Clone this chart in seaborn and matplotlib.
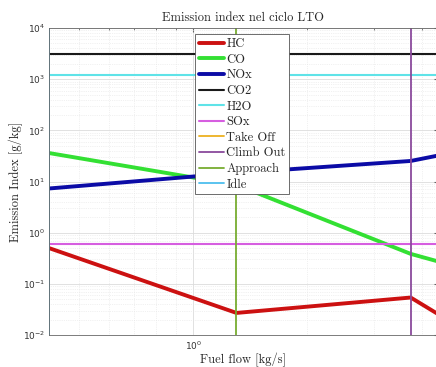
import numpy as np
import pandas as pd
import matplotlib
matplotlib.use("Agg")
import matplotlib.pyplot as plt
from matplotlib.ticker import NullFormatter
import seaborn as sns

# Data
phases = ["Idle", "Approach", "Climb Out", "Take Off"]
fuel_flow = [0.417, 1.30, 3.74, 4.40]  # kg/s
HC = [0.50, 0.027, 0.054, 0.026]
CO = [36.0, 8.6, 0.385, 0.276]
NOx = [7.3, 14.7, 25.2, 32.0]
CO2 = [3160, 3160, 3160, 3160]
H2O = [1230, 1230, 1230, 1230]
SOx = [0.6, 0.6, 0.6, 0.6]

species = ["HC", "CO", "NOx", "CO2", "H2O", "SOx"]
species_vals = [HC, CO, NOx, CO2, H2O, SOx]
species_colors = ["#cc1111", "#33e033", "#0b0ba6", "#1a1a1a", "#5fe3e8", "#d65ee0"]
species_lw = [2.8, 2.8, 2.8, 1.5, 1.5, 1.5]
phase_colors = {"Take Off": "#EDB120", "Climb Out": "#8a4a9c",
                "Approach": "#77AC30", "Idle": "#4DBEEE"}
legend_phase_order = ["Take Off", "Climb Out", "Approach", "Idle"]

df = pd.DataFrame({
    "fuel": np.tile(fuel_flow, len(species)),
    "EI": np.concatenate(species_vals),
    "species": np.repeat(species, len(fuel_flow)),
})

sns.set_style("white")
fig = plt.figure(figsize=(4.36, 3.67), dpi=100)
ax = fig.add_axes([49 / 436, 1 - 335 / 367, (437.5 - 49) / 436, (335 - 28) / 367])

serif = "cmr10"

for name, col, lw in zip(species, species_colors, species_lw):
    sub = df[df["species"] == name]
    sns.lineplot(data=sub, x="fuel", y="EI", ax=ax, color=col, lw=lw,
                 label=name, estimator=None, sort=True)

for ph in legend_phase_order:
    xv = fuel_flow[phases.index(ph)]
    ax.axvline(xv, color=phase_colors[ph], lw=1.3, label=ph)

ax.set_xscale("log")
ax.set_yscale("log")
ax.set_xlim(fuel_flow[0], fuel_flow[-1])
ax.set_ylim(1e-2, 1e4)
ax.xaxis.set_minor_formatter(NullFormatter())
ax.yaxis.set_minor_formatter(NullFormatter())

ax.grid(True, which="major", color="#dcdcdc", lw=0.6, ls="-")
ax.grid(True, which="minor", color="#e4e4e4", lw=0.5, ls=":")
ax.set_axisbelow(True)

for s in ax.spines.values():
    s.set_color("#666666")
    s.set_linewidth(0.6)

ax.tick_params(which="both", direction="in", top=True, right=True,
               color="#666666", labelsize=6.5, labelcolor="#333333")
ax.tick_params(which="major", length=3, pad=3)
ax.tick_params(which="minor", length=1.5)

ax.set_title("Emission index nel ciclo LTO", fontfamily=serif, fontsize=9, pad=5)
ax.set_xlabel("Fuel flow [kg/s]", fontfamily=serif, fontsize=9, labelpad=0)
ax.set_ylabel("Emission Index [g/kg]", fontfamily=serif, fontsize=9, labelpad=0)
ax.xaxis.set_label_coords(0.5, -0.058)
ax.yaxis.set_label_coords(-0.066, 0.5)

leg = ax.legend(loc="upper left", bbox_to_anchor=(0.376, 0.980),
                prop={"family": serif, "size": 9}, frameon=True, fancybox=False,
                edgecolor="#555555", handlelength=2.0, handletextpad=0.2,
                labelspacing=0.28, borderpad=0.3, borderaxespad=0.0)
leg.get_frame().set_linewidth(0.6)
leg.get_frame().set_alpha(1.0)

fig.savefig("out.png", dpi=100)
